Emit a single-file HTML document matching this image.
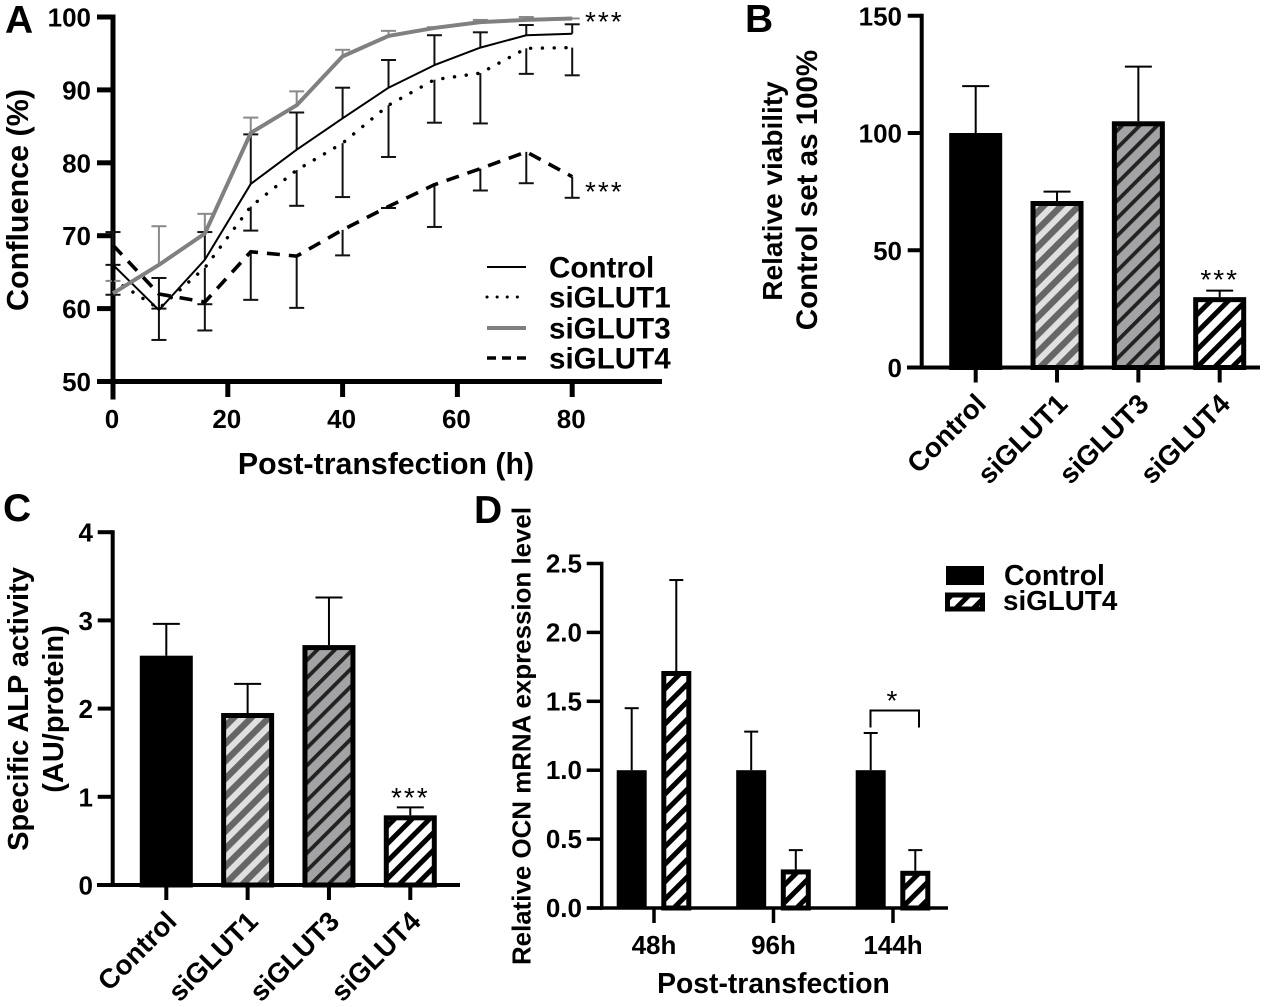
<!DOCTYPE html>
<html lang="en">
<head>
<meta charset="utf-8">
<title>GLUT knockdown figure</title>
<style>
html,body{margin:0;padding:0;background:#fff;width:1283px;height:1007px;overflow:hidden}
svg{display:block}
text{font-family:"Liberation Sans",Arial,sans-serif;font-weight:700;fill:#000}
text.star{font-weight:400;letter-spacing:2px}
</style>
</head>
<body>
<svg id="fig" xmlns="http://www.w3.org/2000/svg" width="1283" height="1007" viewBox="0 0 1283 1007">
<defs>
<pattern id="hatch-s1" patternUnits="userSpaceOnUse" width="12.4" height="12.4" patternTransform="rotate(45)"><rect width="12.4" height="12.4" fill="#e0e0e0"/><rect width="6.4" height="12.4" fill="#666"/></pattern>
<pattern id="hatch-s3" patternUnits="userSpaceOnUse" width="12.4" height="12.4" patternTransform="rotate(45)"><rect width="12.4" height="12.4" fill="#a3a3a5"/><rect width="3.8" height="12.4" fill="#222"/></pattern>
<pattern id="hatch-s4" patternUnits="userSpaceOnUse" width="12.4" height="12.4" patternTransform="rotate(45)"><rect width="12.4" height="12.4" fill="#fff"/><rect width="5" height="12.4" fill="#000"/></pattern>
</defs>
</svg>
<script>
// ---- Panel A data ----
const hours = [0, 8, 16, 24, 32, 40, 48, 56, 64, 72, 80];
const aXTicks = [0, 20, 40, 60, 80];
const aYTicks = [50, 60, 70, 80, 90, 100];
const controlMeans = [66, 59.8, 66.7, 77.1, 81.8, 86.1, 90.3, 93.4, 95.8, 97.5, 97.7];
const siglut1Means = [64, 60, 65.6, 74, 79, 82.7, 87.9, 91.4, 92.3, 95.7, 95.8];
const siglut3Means = [62.1, 66, 70.3, 84.1, 87.9, 94.6, 97.4, 98.5, 99.3, 99.6, 99.8];
const siglut4Means = [68.7, 62, 60.9, 67.8, 67.2, 70.8, 74, 77, 79.2, 81.5, 78.1];
const controlUpper = [70.5, 64.2, 70.5, 83.9, 86.9, 90.3, 94.1, 97.5, 97.9, 98.9, 99];
const siglut1Lower = [61.9, 55.7, 57, 70.7, 74.1, 75.3, 80.8, 85.5, 85.4, 92.2, 92];
const siglut3Upper = [63.8, 71.3, 73, 86.2, 89.8, 95.5, 98.1, 98.6, 99.6, 100, 99.8];
const siglut4Lower = [66, 60, 60.6, 61.2, 60.1, 67.3, 73.8, 71.2, 76.2, 77.2, 75.2];

// ---- Panel B data ----
const barCategories = ['Control', 'siGLUT1', 'siGLUT3', 'siGLUT4'];
const bYTicks = [0, 50, 100, 150];
const viabilityMeans = [100, 71, 105, 30];
const viabilityErrTop = [120, 75, 128.3, 32.8];

// ---- Panel C data ----
const cYTicks = [0, 1, 2, 3, 4];
const alpMeans = [2.6, 1.95, 2.72, 0.79];
const alpErrTop = [2.96, 2.28, 3.26, 0.88];

// ---- Panel D data ----
const timeCategories = ['48h', '96h', '144h'];
const dYTicks = ['0.0', '0.5', '1.0', '1.5', '2.0', '2.5'];
const ocnControl = [1, 1, 1];
const ocnControlErr = [1.45, 1.28, 1.27];
const ocnSiglut4 = [1.72, 0.28, 0.27];
const ocnSiglut4Err = [2.38, 0.42, 0.42];

const NS = 'http://www.w3.org/2000/svg';
const fig = document.getElementById('fig');
function mk(tag, props) {
  const e = document.createElementNS(NS, tag);
  for (const k in props) e.setAttribute(k, props[k]);
  fig.appendChild(e);
  return e;
}
function seg(x1, y1, x2, y2, w, col) {
  return mk('line', {x1: x1, y1: y1, x2: x2, y2: y2, stroke: col || '#000', 'stroke-width': w});
}
function label(str, x, y, size, anchor, rot, cls) {
  const t = mk('text', {x: x, y: y, 'font-size': size, 'text-anchor': anchor || 'middle'});
  if (rot) t.setAttribute('transform', 'rotate(' + rot + ' ' + x + ' ' + y + ')');
  if (cls) t.setAttribute('class', cls);
  t.textContent = str;
  return t;
}

function axisY(panel, axisX, topY, bottomY, w, tickW, tickLen, values, yFn, labelRight, fontSize, baseOffset) {
  const spine = seg(axisX, topY - w / 2, axisX, bottomY + w / 2, w);
  
  
  values.forEach(function (v) {
    const y = yFn(parseFloat(v));
    const tick = seg(axisX - tickLen, y, axisX, y, tickW);
    
    
    const lab = label(String(v), labelRight, y + baseOffset, fontSize, 'end');
    
    
  });
}

// ================= Panel A =================
const xA = function (h) { return 113 + h * 5.74; };
const yA = function (v) { return 381.5 - (v - 50) * 7.29; };

const aXAxis = seg(97, yA(50), 662, yA(50), 5);


axisY('a', 113, yA(100), 397, 5, 5, 16, aYTicks, yA, 91, 26, 9.5);
aXTicks.forEach(function (h) {
  const tick = seg(xA(h), yA(50), xA(h), 397, 5);
  
  
  const lab = label(String(h), xA(h) - 1, 428, 26);
  
  
});

function errorBars(name, means, ends, col) {
  hours.forEach(function (h, i) {
    const x = xA(h);
    const stem = seg(x, yA(means[i]), x, yA(ends[i]), 2, col);
    
    
    const cap = seg(x - 7.5, yA(ends[i]), x + 7.5, yA(ends[i]), 2, col);
    
    
  });
}
function seriesLine(means, col, w, dash, cap) {
  const pts = hours.map(function (h, i) { return xA(h) + ',' + yA(means[i]); }).join(' ');
  const props = {points: pts, fill: 'none', stroke: col, 'stroke-width': w, 'stroke-linejoin': 'round'};
  if (dash) props['stroke-dasharray'] = dash;
  if (cap) props['stroke-linecap'] = cap;
  return mk('polyline', props);
}
errorBars('siglut3', siglut3Means, siglut3Upper, '#8a8a8a');
errorBars('control', controlMeans, controlUpper, '#111');
errorBars('siglut1', siglut1Means, siglut1Lower, '#111');
errorBars('siglut4', siglut4Means, siglut4Lower, '#111');

const lineCtl = seriesLine(controlMeans, '#000', 2);


const lineS1 = seriesLine(siglut1Means, '#000', 3.4, '0.1 11.7', 'round');


const lineS3 = seriesLine(siglut3Means, '#808080', 4);


const lineS4 = seriesLine(siglut4Means, '#000', 3.6, '13 9');



const starA1 = label('***', 585, 31, 28, 'start', 0, 'star');


const starA2 = label('***', 585, 201, 28, 'start', 0, 'star');



const legendY = [267, 297, 328, 358];
const legS = [['#000', 2, ''], ['#000', 3, '0.1 10'], ['#808080', 4, ''], ['#000', 3.6, '9 6']];
const legendNames = ['Control', 'siGLUT1', 'siGLUT3', 'siGLUT4'];
legendNames.forEach(function (n, i) {
  const s = seg(487, legendY[i], 526, legendY[i], legS[i][1], legS[i][0]);
  if (legS[i][2]) s.setAttribute('stroke-dasharray', legS[i][2]);
  if (i === 1) s.setAttribute('stroke-linecap', 'round');
  
  
  const t = label(n, 549, legendY[i] + 10.5, 29.6, 'start');
  
  
});

const aXTitle = label('Post-transfection (h)', 386, 474, 30.3);


const aYTitle = label('Confluence (%)', 28, 200, 30.5, 'middle', -90);



// ================= Bar panels B / C =================
const fills = ['#000', 'url(#hatch-s1)', 'url(#hatch-s3)', 'url(#hatch-s4)'];
function barPanel(panel, centers, means, errs, yFn, base) {
  centers.forEach(function (cx, i) {
    const stem = seg(cx, yFn(means[i]), cx, yFn(errs[i]), 2);
    
    
    const cap = seg(cx - 13.5, yFn(errs[i]), cx + 13.5, yFn(errs[i]), 2);
    
    
    const top = yFn(means[i]);
    const r = mk('rect', {x: cx - 24, y: top + 2.5, width: 48, height: base - top - 2.5, fill: fills[i], stroke: '#000', 'stroke-width': 5});
    
    
    const tick = seg(cx, base, cx, base + 15, 4);
    
    
    const lab = label(barCategories[i], cx + 12, base + 38, 27.5, 'end', -45);
    
    
  });
}

// Panel B
const yB = function (v) { return 367.5 - v * 2.345; };
const bCenters = barCategories.map(function (c, i) { return 975.7 + i * 81.33; });
axisY('b', 921.7, yB(150), 367.5, 4, 4, 14, bYTicks, yB, 902, 26, 9.5);
const bXAxis = seg(907, 367.5, 1260, 367.5, 4);


barPanel('b', bCenters, viabilityMeans, viabilityErrTop, yB, 367.5);
const bStar = label('***', bCenters[3], 289, 28, 'middle', 0, 'star');


const bTitle1 = label('Relative viability', 782, 191, 28, 'middle', -90);


const bTitle2 = label('Control set as 100%', 817, 190, 29.5, 'middle', -90);



// Panel C
const yC = function (v) { return 885 - v * 88.2; };
const cCenters = barCategories.map(function (c, i) { return 166.3 + i * 81.33; });
axisY('c', 112.7, yC(4), 885, 4, 4, 15, cYTicks, yC, 93, 26, 9.5);
const cXAxis = seg(97, 885, 460, 885, 4);


barPanel('c', cCenters, alpMeans, alpErrTop, yC, 885);
const cStar = label('***', cCenters[3], 807, 28, 'middle', 0, 'star');


const cTitle1 = label('Specific ALP activity', 28, 709, 29, 'middle', -90);


const cTitle2 = label('(AU/protein)', 63, 709, 29, 'middle', -90);



// ================= Panel D =================
const yD = function (v) { return 908 - v * 137.8; };
const dGroupX = function (i) { return 654 + i * 119.5; };
axisY('d', 601.7, yD(2.5), 908, 3.5, 3.5, 15, dYTicks, yD, 582, 26, 9);
const dXAxis = seg(587, 908, 948, 908, 3.5);


timeCategories.forEach(function (c, i) {
  const gx = dGroupX(i);
  const cxA = gx - 22.3, cxB = gx + 22.3;
  [[cxA, ocnControl[i], ocnControlErr[i], 'control'], [cxB, ocnSiglut4[i], ocnSiglut4Err[i], 'siglut4']].forEach(function (b) {
    const stem = seg(b[0], yD(b[1]), b[0], yD(b[2]), 2);
    
    
    const cap = seg(b[0] - 7, yD(b[2]), b[0] + 7, yD(b[2]), 2);
    
    
    const top = yD(b[1]);
    const isCtl = b[3] === 'control';
    const r = mk('rect', {x: b[0] - (isCtl ? 15 : 12.5), y: isCtl ? top : top + 2.5, width: isCtl ? 30 : 25, height: isCtl ? 908 - top : 908 - top - 2.5, fill: isCtl ? '#000' : 'url(#hatch-s4)', stroke: isCtl ? 'none' : '#000', 'stroke-width': 5});
    
    
  });
  const tick = seg(gx, 908, gx, 923, 3.5);
  
  
  const lab = label(c, gx, 954, 26);
  
  
});
const bracket = mk('path', {d: 'M870.5 727.5V710.5H919V727.5', fill: 'none', stroke: '#000', 'stroke-width': 2});


const dStar = label('*', 893, 710, 28, 'middle', 0, 'star');


const dXTitle = label('Post-transfection', 773.5, 993, 28.3);


const dYTitle = label('Relative OCN mRNA expression level', 530.5, 736, 25.9, 'middle', -90);



const dLegRect1 = mk('rect', {x: 946, y: 566, width: 38, height: 19, fill: '#000'});


const dLegRect2 = mk('rect', {x: 947.5, y: 595, width: 35, height: 14, fill: 'url(#hatch-s4)', stroke: '#000', 'stroke-width': 5});


const dLeg1 = label('Control', 1004, 585, 28.4, 'start');


const dLeg2 = label('siGLUT4', 1003, 610, 27.8, 'start');



// ================= Panel letters =================
const letA = label('A', 5, 33, 39, 'start');


const letB = label('B', 745, 32, 39, 'start');


const letC = label('C', 3, 521, 39, 'start');


const letD = label('D', 474, 523, 39, 'start');


</script>
</body>
</html>
